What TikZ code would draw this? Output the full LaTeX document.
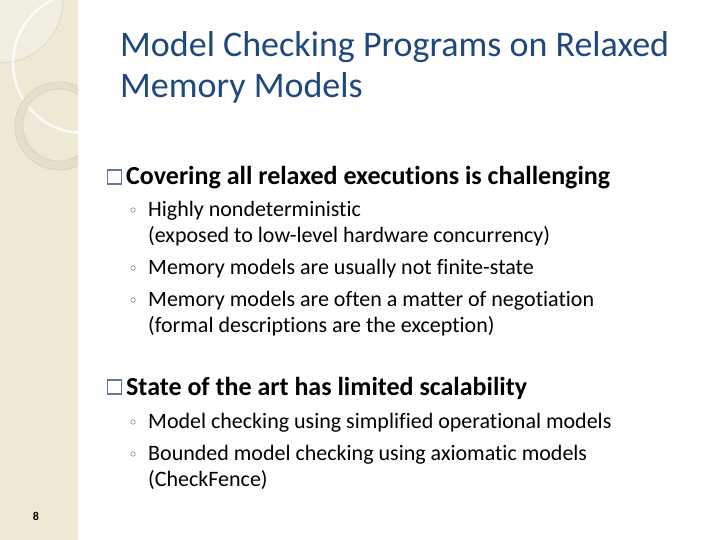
\documentclass[tikz,border=0pt]{standalone}
\usepackage{fontspec}
\setmainfont{Carlito}[Ligatures=NoCommon]
\definecolor{stripbg}{RGB}{237,233,213}
\definecolor{stripdark}{RGB}{228,223,201}
\definecolor{stripline}{RGB}{214,209,188}
\definecolor{titleblue}{RGB}{31,73,125}
\definecolor{boxblue}{RGB}{96,122,150}
\definecolor{dotgray}{RGB}{120,130,145}

\begin{document}
\begin{tikzpicture}[x=1pt,y=-1pt,
  title/.style={anchor=base west,inner sep=0pt,text=titleblue,font=\fontsize{36}{43}\selectfont},
  lvlone/.style={anchor=base west,inner sep=0pt,font=\fontsize{26}{31}\selectfont\bfseries},
  lvltwo/.style={anchor=base west,inner sep=0pt,font=\fontsize{22}{26}\selectfont},
  tickbox/.style={draw=boxblue,line width=1.3pt,minimum size=14pt,inner sep=0pt},
  ringdot/.style={draw=dotgray,line width=0.6pt,circle,minimum size=4.5pt,inner sep=0pt}]
  \useasboundingbox (0,0) rectangle (720,540);
  \fill[white] (0,0) rectangle (720,540);
  % left strip
  \fill[stripbg] (0,0) rectangle (78,540);
  \begin{scope}
    \clip (0,0) rectangle (78,540);
    \fill[white,opacity=0.25] (0,0) circle (63);
    \draw[stripline,line width=0.6pt] (0,0) circle (63);
    \draw[white,opacity=0.8,line width=2.5pt] (83,63) circle (70);
    \fill[stripdark,even odd rule] (59,126) circle (44) (59,125) circle (36);
    \draw[stripline,line width=0.6pt] (59,126) circle (44);
    \draw[stripline,line width=0.6pt] (59,125) circle (36);
  \end{scope}

  % title
  \node[title] (t1) at (120,57) {Model Checking Programs on Relaxed};
  \node[title] (t2) at (120,98) {Memory Models};

  % first point
  \node[tickbox] (b1) at (114.5,177) {};
  \node[lvlone] (p1) at (126,185) {Covering all relaxed executions is challenging};
  \node[ringdot] (d1) at (133,210) {};
  \node[lvltwo] (s1) at (148,216) {Highly nondeterministic};
  \node[lvltwo] (s1b) at (148,242) {(exposed to low-level hardware concurrency)};
  \node[ringdot] (d2) at (133,268) {};
  \node[lvltwo] (s2) at (148,274) {Memory models are usually not finite-state};
  \node[ringdot] (d3) at (133,300) {};
  \node[lvltwo] (s3) at (148,306) {Memory models are often a matter of negotiation};
  \node[lvltwo] (s3b) at (148,332) {(formal descriptions are the exception)};

  % second point
  \node[tickbox] (b2) at (114.5,387) {};
  \node[lvlone] (p2) at (126,395) {State of the art has limited scalability};
  \node[ringdot] (d4) at (133,422) {};
  \node[lvltwo] (s4) at (148,428) {Model checking using simplified operational models};
  \node[ringdot] (d5) at (133,454) {};
  \node[lvltwo] (s5) at (148,460) {Bounded model checking using axiomatic models};
  \node[lvltwo] (s5b) at (148,486) {(CheckFence)};

  % page number
  \node[anchor=base,inner sep=0pt,font=\fontsize{12}{14}\selectfont\bfseries] (pg) at (36,520) {8};
\end{tikzpicture}
\end{document}
